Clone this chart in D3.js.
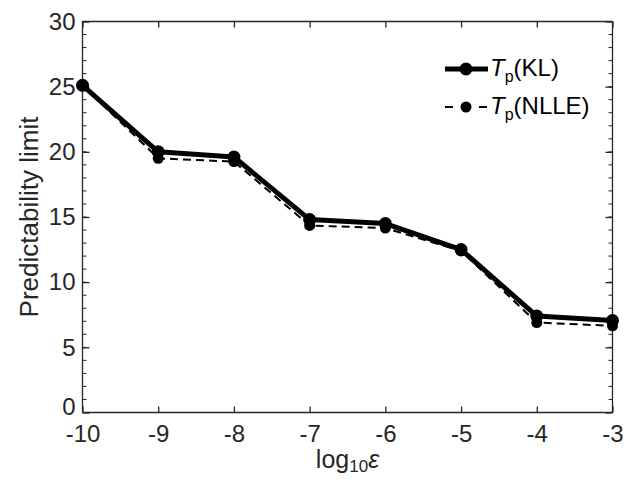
<!DOCTYPE html>
<html><head><meta charset="utf-8">
<script src="https://cdn.jsdelivr.net/npm/d3@7"></script>
<style>body{margin:0;background:#fff;} text{font-family:"Liberation Sans",Arial,sans-serif;}</style>
</head><body>
<svg id="c" width="630" height="479"></svg>
<script>
const logEps = [-10, -9, -8, -7, -6, -5, -4, -3];
const tpKL   = [25.1, 20.0, 19.6, 14.8, 14.5, 12.5, 7.4, 7.05];
const tpNLLE = [25.1, 19.5, 19.25, 14.35, 14.15, 12.4, 6.9, 6.65];
const xTicks = [-10, -9, -8, -7, -6, -5, -4, -3];
const yTicks = [0, 5, 10, 15, 20, 25, 30];
const yMinor = d3.range(0, 31, 1);

const svg = d3.select("#c");
const L = 82.5, R = 612.5, T = 21.5, B = 412.5;
const x = d3.scaleLinear().domain([-10, -3]).range([L, R]);
const y = d3.scaleLinear().domain([0, 30]).range([B, T]);
const ax = "#262626";
const FONT = '"Liberation Sans",Arial,sans-serif';

// minor ticks (y) on left and right
const g = svg.append("g");
g.selectAll(".ml").data(yMinor).enter().append("line")
  .attr("x1", L).attr("x2", L + 4).attr("y1", d => y(d)).attr("y2", d => y(d))
  .attr("stroke", ax).attr("stroke-width", 1);
g.selectAll(".mr").data(yMinor).enter().append("line")
  .attr("x1", R).attr("x2", R - 4).attr("y1", d => y(d)).attr("y2", d => y(d))
  .attr("stroke", ax).attr("stroke-width", 1);

// axes via d3
const xAxisB = d3.axisBottom(x).tickValues(xTicks).tickSize(-6).tickPadding(12).tickFormat(d => d);
const xAxisT = d3.axisTop(x).tickValues(xTicks).tickSize(-6).tickFormat("");
const yAxisL = d3.axisLeft(y).tickValues(yTicks).tickSize(-7).tickPadding(7).tickFormat(d => d);
const yAxisR = d3.axisRight(y).tickValues(yTicks).tickSize(-7).tickFormat("");

function style(sel){
  sel.selectAll("path").attr("stroke", ax).attr("stroke-width", 1.3);
  sel.selectAll("line").attr("stroke", ax).attr("stroke-width", 1.3);
  sel.selectAll("text").attr("fill", ax).style("font-size", "24px").style("font-family", FONT);
}
const gb = svg.append("g").attr("transform", `translate(0,${B})`).call(xAxisB).call(style);
gb.select(".domain").attr("d", `M${L},0H${R}`);
svg.append("g").attr("transform", `translate(0,${T})`).call(xAxisT).call(style)
  .select(".domain").attr("d", `M${L},0H${R}`);
const gl = svg.append("g").attr("transform", `translate(${L},0)`).call(yAxisL).call(style);
gl.select(".domain").attr("d", `M0,${T}V${B}`);
gl.selectAll(".tick text").attr("dy", (d) => d === 0 ? "0.1em" : "0.32em");
svg.append("g").attr("transform", `translate(${R},0)`).call(yAxisR).call(style)
  .select(".domain").attr("d", `M0,${T}V${B}`);

// series
const line = d3.line().x((d, i) => x(logEps[i])).y(d => y(d));
svg.append("path").datum(tpNLLE).attr("d", line).attr("fill", "none")
  .attr("stroke", "#000").attr("stroke-width", 2).attr("stroke-dasharray", "8,5");
svg.append("g").selectAll("circle").data(tpNLLE).enter().append("circle")
  .attr("cx", (d, i) => x(logEps[i])).attr("cy", d => y(d)).attr("r", 5.5).attr("fill", "#000");
svg.append("path").datum(tpKL).attr("d", line).attr("fill", "none")
  .attr("stroke", "#000").attr("stroke-width", 5).attr("stroke-linejoin", "round");
svg.append("g").selectAll("circle").data(tpKL).enter().append("circle")
  .attr("cx", (d, i) => x(logEps[i])).attr("cy", d => y(d)).attr("r", 6.5).attr("fill", "#000");

// labels
svg.append("text").attr("transform", `translate(38,${(T + B) / 2}) rotate(-90)`)
  .attr("text-anchor", "middle").style("font-size", "26px").style("font-family", FONT)
  .attr("fill", ax).text("Predictability limit");
const xl = svg.append("text").attr("x", (L + R) / 2).attr("y", 468).attr("text-anchor", "middle")
  .style("font-size", "25px").style("font-family", FONT).attr("fill", ax);
xl.append("tspan").text("log");
xl.append("tspan").attr("dy", 4).style("font-size", "17px").text("10");
xl.append("tspan").attr("dy", -4).style("font-style", "italic").text("ε");

// legend
const legend = [
  {name: "KL", w: 5, dash: null, r: 6.5, yy: 69},
  {name: "NLLE", w: 2, dash: "8,9", r: 5.5, yy: 107}
];
const lg = svg.append("g");
legend.forEach(l => {
  lg.append("line").attr("x1", 445).attr("x2", 488).attr("y1", l.yy).attr("y2", l.yy)
    .attr("stroke", "#000").attr("stroke-width", l.w).attr("stroke-dasharray", l.dash);
  lg.append("circle").attr("cx", 466).attr("cy", l.yy).attr("r", l.r).attr("fill", "#000");
  const t = lg.append("text").attr("x", 490).attr("y", l.yy + 7).style("font-size", "24px")
    .style("font-family", FONT).attr("fill", "#000");
  t.append("tspan").style("font-style", "italic").text("T");
  t.append("tspan").attr("dy", 6).style("font-size", "16px").text("p");
  t.append("tspan").attr("dy", -6).text("(" + l.name + ")");
});
</script>
</body></html>
